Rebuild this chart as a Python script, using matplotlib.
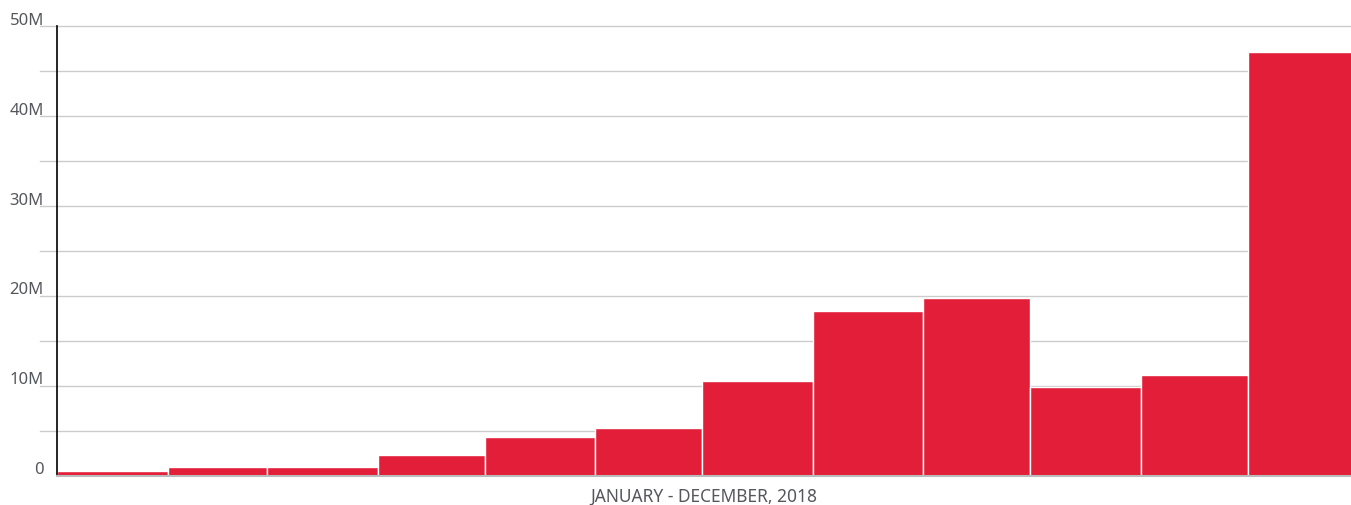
import numpy as np
import matplotlib.pyplot as plt

# monthly totals, 2018
months = ['Jan', 'Feb', 'Mar', 'Apr', 'May', 'Jun',
          'Jul', 'Aug', 'Sep', 'Oct', 'Nov', 'Dec']
days_in_month = [31, 28, 31, 30, 31, 30, 31, 31, 30, 31, 30, 31]
values = [0.55e6, 1.0e6, 1.0e6, 2.3e6, 4.3e6, 5.3e6,
          10.5e6, 18.3e6, 19.7e6, 9.8e6, 11.2e6, 47.1e6]
tick_values = [0, 10e6, 20e6, 30e6, 40e6, 50e6]
tick_labels = ['0', '10M', '20M', '30M', '40M', '50M']
xlabel = 'JANUARY - DECEMBER, 2018'

plt.rcParams['font.family'] = ['Noto Sans', 'DejaVu Sans']

fig = plt.figure(figsize=(13.51, 5.06), dpi=100)
ax = fig.add_axes([57 / 1351, 29.5 / 506, 1294 / 1351, 449.5 / 506])

starts = np.concatenate([[0], np.cumsum(days_in_month)[:-1]])
ax.bar(starts, values, width=days_in_month, align='edge',
       color='#E31E39', edgecolor='white', linewidth=1, zorder=3)

ax.set_xlim(0, 363)
ax.set_ylim(0, 50e6)

# gridlines every 5M, running a little past the axis on the left
for v in np.arange(5e6, 50.1e6, 5e6):
    ax.axhline(v, xmin=-17 / 1294, xmax=1, color='#cccccc', lw=1,
               clip_on=False, zorder=1)

for v, lab in zip(tick_values, tick_labels):
    ax.text(-13 / 1294, v - 0.2e6, lab,
            transform=ax.get_yaxis_transform(), ha='right', va='bottom',
            fontsize=12, color='#55575d')

ax.set_xticks([])
ax.set_yticks([])
ax.spines['top'].set_visible(False)
ax.spines['right'].set_visible(False)
ax.spines['left'].set_color('black')
ax.spines['left'].set_linewidth(1.2)
ax.spines['bottom'].set_color('#bbbbbb')
ax.spines['bottom'].set_linewidth(1.5)
for s in ax.spines.values():
    s.set_zorder(4)

ax.set_xlabel(xlabel, fontsize=12.5, color='#55575d', labelpad=8)

fig.savefig('out.png', dpi=100)
